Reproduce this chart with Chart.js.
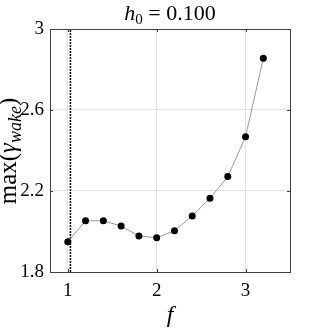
<!DOCTYPE html>
<html>
<head>
<meta charset="utf-8">
<script src="https://cdn.jsdelivr.net/npm/chart.js@4"></script>
<style>
  html, body { margin: 0; padding: 0; background: #fff; }
  #wrap { width: 321px; height: 331px; }
</style>
</head>
<body>
<div id="wrap"><canvas id="c" width="321" height="331"></canvas></div>
<script>
// data
const freq = [1.0, 1.2, 1.4, 1.6, 1.8, 2.0, 2.2, 2.4, 2.6, 2.8, 3.0, 3.2];
const maxGamma = [1.950, 2.053, 2.053, 2.027, 1.978, 1.969, 2.004, 2.077, 2.164, 2.271, 2.468, 2.855];
const markerF = 1.03;
const xTicks = [1, 2, 3];
const yTicks = [1.8, 2.2, 2.6, 3];

const serif = "'Liberation Serif', 'DejaVu Serif', serif";

// frame, inner ticks and math-style labels
const decor = {
  id: 'decor',
  afterDraw(chart) {
    const ctx = chart.ctx;
    const a = chart.chartArea;
    const xs = chart.scales.x, ys = chart.scales.y;
    ctx.save();
    ctx.strokeStyle = '#404040';
    ctx.lineWidth = 1;
    // inner ticks
    ctx.beginPath();
    xTicks.forEach(v => {
      const px = Math.round(xs.getPixelForValue(v)) + 0.5;
      ctx.moveTo(px, a.bottom); ctx.lineTo(px, a.bottom - 3);
      ctx.moveTo(px, a.top); ctx.lineTo(px, a.top + 3);
    });
    yTicks.forEach(v => {
      const py = Math.round(ys.getPixelForValue(v)) + 0.5;
      ctx.moveTo(a.left, py); ctx.lineTo(a.left + 3, py);
      ctx.moveTo(a.right, py); ctx.lineTo(a.right - 3, py);
    });
    ctx.stroke();
    ctx.strokeRect(Math.round(a.left) + 0.5, Math.round(a.top) + 0.5,
                   Math.round(a.right - a.left), Math.round(a.bottom - a.top));

    ctx.fillStyle = '#000';
    ctx.textBaseline = 'alphabetic';
    ctx.textAlign = 'left';

    // title  h_0 = 0.100
    const cx = (a.left + a.right) / 2;
    const parts = [
      { t: 'h', f: 'italic 22px ' + serif, dy: 0 },
      { t: '0', f: '15px ' + serif, dy: 4 },
      { t: ' = 0.100', f: '22px ' + serif, dy: 0 }
    ];
    let w = 0;
    parts.forEach(p => { ctx.font = p.f; p.w = ctx.measureText(p.t).width; w += p.w; });
    let x = cx - w / 2;
    parts.forEach(p => { ctx.font = p.f; ctx.fillText(p.t, x, 20 + p.dy); x += p.w; });

    // x label
    ctx.font = 'italic 24px ' + serif;
    ctx.textAlign = 'center';
    ctx.fillText('f', cx, 322);

    // y label  max(γ_wake)
    ctx.textAlign = 'left';
    const yp = [
      { t: 'max(', f: '25px ' + serif, dy: 0 },
      { t: 'γ', f: 'italic 25px ' + serif, dy: 0 },
      { t: 'wake', f: 'italic 18px ' + serif, dy: 5 },
      { t: ')', f: '25px ' + serif, dy: 0 }
    ];
    w = 0;
    yp.forEach(p => { ctx.font = p.f; p.w = ctx.measureText(p.t).width; w += p.w; });
    ctx.translate(16, 151);
    ctx.rotate(-Math.PI / 2);
    x = -w / 2;
    yp.forEach(p => { ctx.font = p.f; ctx.fillText(p.t, x, p.dy); x += p.w; });
    ctx.restore();
  }
};

new Chart(document.getElementById('c'), {
  type: 'scatter',
  data: {
    datasets: [{
      data: freq.map((f, i) => ({ x: f, y: maxGamma[i] })),
      showLine: true,
      borderColor: '#808080',
      borderWidth: 0.8,
      backgroundColor: '#000',
      pointBorderColor: '#000',
      pointRadius: 3.5,
      pointBorderWidth: 0
    }, {
      data: [{ x: markerF, y: yTicks[0] }, { x: markerF, y: yTicks[yTicks.length - 1] }],
      showLine: true,
      borderColor: '#000',
      borderWidth: 1.5,
      borderDash: [2, 1],
      pointRadius: 0
    }]
  },
  options: {
    responsive: false,
    animation: false,
    layout: { padding: { top: 29, right: 31, left: 0, bottom: 0 } },
    plugins: { legend: { display: false }, tooltip: { enabled: false } },
    scales: {
      x: {
        type: 'linear', min: 0.8, max: 3.5,
        afterBuildTicks: s => { s.ticks = xTicks.map(v => ({ value: v })); },
        afterFit: s => { s.height = 59; },
        grid: { color: '#e3e3e3', drawTicks: false },
        border: { display: false },
        ticks: { padding: 8, color: '#000', font: { family: serif, size: 19 },
                 callback: v => String(v) }
      },
      y: {
        type: 'linear', min: 1.8, max: 3,
        afterBuildTicks: s => { s.ticks = yTicks.map(v => ({ value: v })); },
        afterFit: s => { s.width = 50; },
        grid: { color: '#e3e3e3', drawTicks: false },
        border: { display: false },
        ticks: { padding: 6, color: '#000', font: { family: serif, size: 19 },
                 callback: v => String(Math.round(v * 10) / 10) }
      }
    }
  },
  plugins: [decor]
});
</script>
</body>
</html>
